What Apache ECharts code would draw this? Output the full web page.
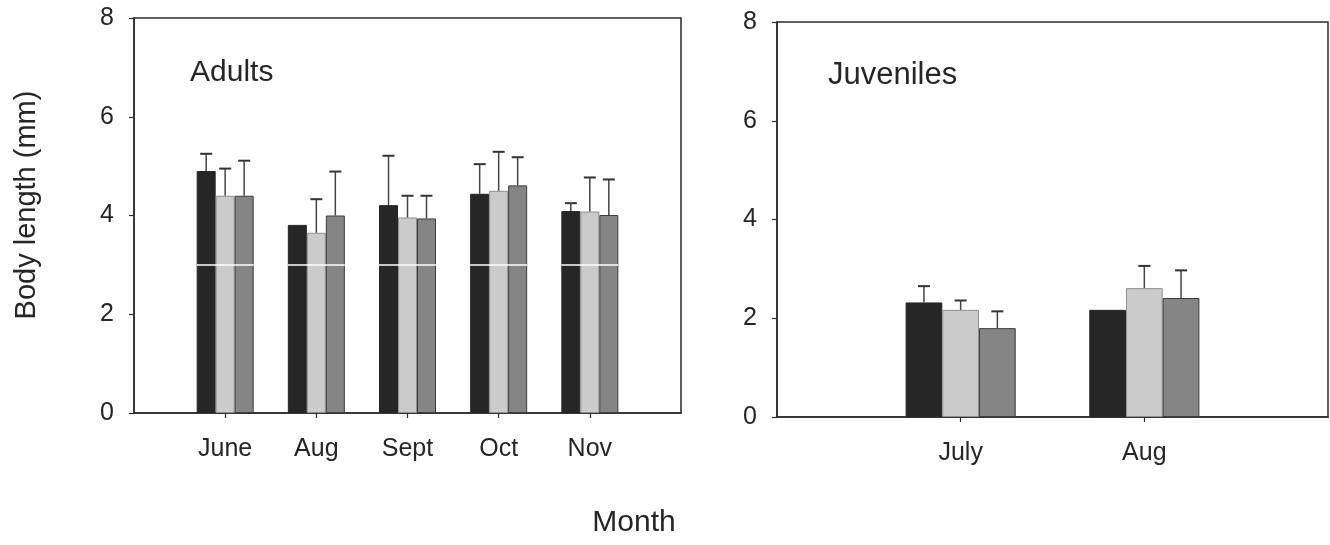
<!DOCTYPE html>
<html>
<head>
<meta charset="utf-8">
<script src="https://cdn.jsdelivr.net/npm/echarts@6/dist/echarts.min.js"></script>
<style>
  html, body { margin: 0; padding: 0; background: #ffffff; }
  #chart { width: 1330px; height: 545px; }
</style>
</head>
<body>
<div id="chart"></div>
<script>
// ---- data: mean body length (mm) and top of error bar, three groups per month ----
const adultMonths = ['June', 'Aug', 'Sept', 'Oct', 'Nov'];
const adultMean1 = [4.90, 3.81, 4.21, 4.44, 4.09];
const adultTop1  = [5.25, null, 5.21, 5.04, 4.25];
const adultMean2 = [4.40, 3.65, 3.96, 4.50, 4.08];
const adultTop2  = [4.95, 4.33, 4.40, 5.29, 4.77];
const adultMean3 = [4.40, 4.00, 3.94, 4.61, 4.01];
const adultTop3  = [5.11, 4.89, 4.40, 5.18, 4.73];

const juvMonths = ['July', 'Aug'];
const juvMean1 = [2.32, 2.17];
const juvTop1  = [2.65, null];
const juvMean2 = [2.17, 2.61];
const juvTop2  = [2.36, 3.06];
const juvMean3 = [1.80, 2.41];
const juvTop3  = [2.14, 2.97];

const yTicks = { min: 0, max: 8, interval: 2 };

// ---- styling ----
const FONT = '"Liberation Sans", Arial, sans-serif';
const INK = '#2b2b2b';
const TEXT = '#262626';
const barColors = ['#262626', '#cbcbcb', '#858585'];
const barBorders = ['#262626', '#8f8f8f', '#3c3c3c'];

// pad each month list so the months sit at 1..n on an axis running 0..n+1
const padded = (list) => [''].concat(list, ['']);
const padVals = (list) => ['-'].concat(list, ['-']);

function barSeries(gridIdx, vals, k, barW) {
  return {
    type: 'bar',
    xAxisIndex: gridIdx, yAxisIndex: gridIdx,
    data: padVals(vals),
    barWidth: barW,
    barGap: '0%',
    itemStyle: { color: barColors[k], borderColor: barBorders[k], borderWidth: 1 },
    silent: true,
    z: 2
  };
}

// error bar: vertical stem from the bar top plus a short cap
function errorSeries(gridIdx, means, tops, k, barW, nSeries) {
  const data = [];
  means.forEach((m, i) => {
    if (tops[i] != null) data.push([i + 1, m, tops[i], k]);
  });
  return {
    type: 'custom',
    xAxisIndex: gridIdx, yAxisIndex: gridIdx,
    data: data,
    silent: true,
    z: 4,
    renderItem: function (params, api) {
      const cat = api.value(0), mean = api.value(1), top = api.value(2), idx = api.value(3);
      const p0 = api.coord([cat, mean]);
      const p1 = api.coord([cat, top]);
      const cx = p0[0] + (idx - (nSeries - 1) / 2) * barW;
      const half = 6;
      return {
        type: 'group',
        children: [
          { type: 'line', shape: { x1: cx, y1: p0[1], x2: cx, y2: p1[1] },
            style: { stroke: '#444444', lineWidth: 1.5 } },
          { type: 'line', shape: { x1: cx - half, y1: p1[1], x2: cx + half, y2: p1[1] },
            style: { stroke: '#333333', lineWidth: 2 } }
        ]
      };
    }
  };
}

// white gridline at 3 mm that shows across the adult bars
function whiteLineSeries(gridIdx, n, barW, level) {
  const data = [];
  for (let i = 0; i < n; i++) data.push([i + 1, level]);
  return {
    type: 'custom',
    xAxisIndex: gridIdx, yAxisIndex: gridIdx,
    data: data,
    silent: true,
    z: 3,
    renderItem: function (params, api) {
      const p = api.coord([api.value(0), api.value(1)]);
      return {
        type: 'line',
        shape: { x1: p[0] - 1.5 * barW, y1: p[1], x2: p[0] + 1.5 * barW, y2: p[1] },
        style: { stroke: '#ffffff', lineWidth: 1.5 }
      };
    }
  };
}

function yAxisOf(gridIdx) {
  return {
    type: 'value', gridIndex: gridIdx,
    min: yTicks.min, max: yTicks.max, interval: yTicks.interval,
    axisLine: { show: true, lineStyle: { color: INK, width: 1.5 } },
    axisTick: { show: true, inside: false, length: 5, lineStyle: { color: INK, width: 1.2 } },
    axisLabel: { fontSize: 25, color: TEXT, fontFamily: FONT, margin: 20 },
    splitLine: { show: false }
  };
}

function xAxisOf(gridIdx, months) {
  return {
    type: 'category', gridIndex: gridIdx,
    data: padded(months),
    boundaryGap: false,
    axisLine: { show: true, onZero: false, lineStyle: { color: INK, width: 1.5 } },
    axisTick: { show: true, length: 5, interval: (i, v) => v !== '',
                lineStyle: { color: INK, width: 1.2 } },
    axisLabel: { interval: 0, fontSize: 25, color: TEXT, fontFamily: FONT, margin: 24 },
    splitLine: { show: false }
  };
}

const ADULT_BW = 19;
const JUV_BW = 36.7;

const chart = echarts.init(document.getElementById('chart'), null, { renderer: 'canvas' });
chart.setOption({
  backgroundColor: '#ffffff',
  animation: false,
  grid: [
    { left: 134, top: 18, width: 547, height: 395, show: true,
      borderColor: INK, borderWidth: 1.5, backgroundColor: 'transparent',
      containLabel: false, outerBoundsMode: 'none' },
    { left: 777, top: 22, width: 551, height: 395, show: true,
      borderColor: INK, borderWidth: 1.5, backgroundColor: 'transparent',
      containLabel: false, outerBoundsMode: 'none' }
  ],
  xAxis: [xAxisOf(0, adultMonths), xAxisOf(1, juvMonths)],
  yAxis: [yAxisOf(0), yAxisOf(1)],
  series: [
    barSeries(0, adultMean1, 0, ADULT_BW),
    barSeries(0, adultMean2, 1, ADULT_BW),
    barSeries(0, adultMean3, 2, ADULT_BW),
    whiteLineSeries(0, adultMonths.length, ADULT_BW, 3),
    errorSeries(0, adultMean1, adultTop1, 0, ADULT_BW, 3),
    errorSeries(0, adultMean2, adultTop2, 1, ADULT_BW, 3),
    errorSeries(0, adultMean3, adultTop3, 2, ADULT_BW, 3),

    barSeries(1, juvMean1, 0, JUV_BW),
    barSeries(1, juvMean2, 1, JUV_BW),
    barSeries(1, juvMean3, 2, JUV_BW),
    errorSeries(1, juvMean1, juvTop1, 0, JUV_BW, 3),
    errorSeries(1, juvMean2, juvTop2, 1, JUV_BW, 3),
    errorSeries(1, juvMean3, juvTop3, 2, JUV_BW, 3)
  ],
  graphic: [
    { type: 'text', left: 190, top: 58,
      style: { text: 'Adults', font: '30px ' + FONT, fill: TEXT } },
    { type: 'text', left: 828, top: 60,
      style: { text: 'Juveniles', font: '31px ' + FONT, fill: TEXT } },
    { type: 'text', x: 634, y: 523,
      style: { text: 'Month', font: '30px ' + FONT, fill: TEXT,
               align: 'center', verticalAlign: 'middle' } },
    { type: 'text', x: 27, y: 205, rotation: Math.PI / 2,
      style: { text: 'Body length (mm)', font: '29px ' + FONT, fill: TEXT,
               align: 'center', verticalAlign: 'middle' } }
  ]
});
</script>
</body>
</html>
